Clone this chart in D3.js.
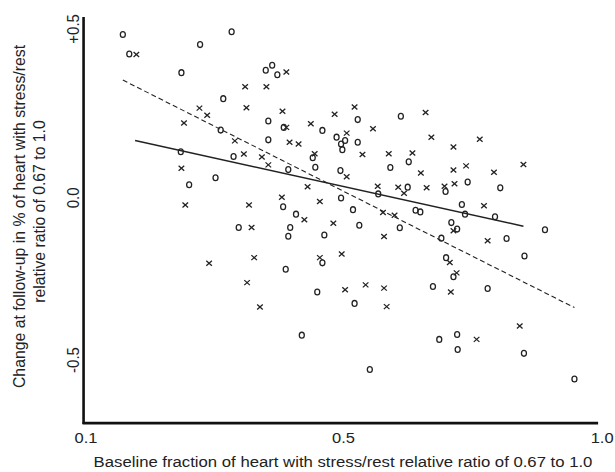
<!DOCTYPE html>
<html>
<head>
<meta charset="utf-8">
<script src="https://cdn.jsdelivr.net/npm/d3@7"></script>
<style>
  body { margin: 0; background: #fff; }
  svg text { font-family: "Liberation Sans", Arial, sans-serif; fill: #222; }
</style>
</head>
<body>
<svg id="chart" width="615" height="472"></svg>
<script>
// open circles
var circleX = [0.158, 0.327, 0.278, 0.168, 0.249, 0.380, 0.390, 0.398, 0.314, 0.528,
  0.610, 0.384, 0.408, 0.310, 0.468, 0.490, 0.504, 0.497, 0.528, 0.384,
  0.248, 0.330, 0.453, 0.457, 0.499, 0.625, 0.590, 0.415, 0.496, 0.302,
  0.261, 0.623, 0.695, 0.737, 0.799, 0.567, 0.407, 0.497, 0.726, 0.519,
  0.638, 0.647, 0.732, 0.789, 0.427, 0.531, 0.608, 0.338, 0.418, 0.415,
  0.706, 0.717, 0.884, 0.471, 0.687, 0.811, 0.411, 0.468, 0.696, 0.845,
  0.710, 0.460, 0.671, 0.775, 0.522, 0.436, 0.683, 0.717, 0.718, 0.844,
  0.551, 0.940];
var circleY = [0.482, 0.490, 0.452, 0.424, 0.369, 0.376, 0.391, 0.363, 0.292, 0.230,
  0.240, 0.226, 0.207, 0.199, 0.198, 0.178, 0.168, 0.158, 0.163, 0.170,
  0.135, 0.121, 0.117, 0.089, 0.141, 0.105, 0.088, 0.082, 0.079, 0.058,
  0.037, 0.030, 0.017, 0.045, 0.028, 0.010, -0.029, -0.002, -0.022, -0.038,
  -0.040, -0.045, -0.052, -0.060, -0.052, -0.086, -0.094, -0.093, -0.093, -0.120,
  -0.078, -0.098, -0.100, -0.116, -0.126, -0.127, -0.222, -0.202, -0.186, -0.181,
  -0.245, -0.292, -0.275, -0.281, -0.327, -0.425, -0.438, -0.423, -0.469, -0.481,
  -0.531, -0.560];

// crosses
var crossX = [0.179, 0.412, 0.348, 0.381, 0.277, 0.289, 0.350, 0.406, 0.487, 0.522,
  0.657, 0.253, 0.450, 0.412, 0.557, 0.507, 0.332, 0.417, 0.431, 0.668,
  0.760, 0.710, 0.346, 0.374, 0.384, 0.456, 0.537, 0.587, 0.632, 0.734,
  0.843, 0.249, 0.507, 0.648, 0.710, 0.787, 0.445, 0.566, 0.605, 0.659,
  0.693, 0.712, 0.616, 0.255, 0.354, 0.405, 0.464, 0.768, 0.576, 0.598,
  0.440, 0.485, 0.358, 0.710, 0.578, 0.775, 0.362, 0.292, 0.464, 0.498,
  0.703, 0.716, 0.351, 0.504, 0.543, 0.578, 0.705, 0.371, 0.583, 0.836,
  0.754];
var crossY = [0.423, 0.371, 0.327, 0.327, 0.264, 0.243, 0.265, 0.255, 0.246, 0.267,
  0.251, 0.220, 0.218, 0.207, 0.203, 0.190, 0.167, 0.163, 0.158, 0.178,
  0.172, 0.149, 0.128, 0.119, 0.096, 0.129, 0.127, 0.129, 0.131, 0.093,
  0.097, 0.086, 0.061, 0.072, 0.081, 0.074, 0.031, 0.033, 0.030, 0.028,
  0.033, 0.040, 0.012, -0.024, -0.024, 0.000, -0.013, -0.026, -0.047, -0.055,
  -0.069, -0.080, -0.093, -0.103, -0.121, -0.134, -0.186, -0.203, -0.186, -0.175,
  -0.201, -0.233, -0.263, -0.285, -0.270, -0.280, -0.292, -0.338, -0.337, -0.397,
  -0.438];

// fitted lines (end points)
var solidFitX = [0.177, 0.843];
var solidFitY = [0.168, -0.089];
var dashedFitX = [0.158, 0.940];
var dashedFitY = [0.347, -0.340];

var xTicks = [0.1, 0.5, 1.0];
var xTickLabels = ['0.1', '0.5', '1.0'];
var yTicks = [-0.5, 0.0, 0.5];
var yTickLabels = ['-0.5', '0.0', '+0.5'];
var xExtent = [0.097, 0.985];
var yExtent = [-0.696, 0.534];

var xTitle = 'Baseline fraction of heart with stress/rest relative ratio of 0.67 to 1.0';
var yTitle = ['Change at follow-up in % of heart with stress/rest',
  'relative ratio of 0.67 to 1.0'];

var svg = d3.select('#chart');
var ink = '#222';
// the source picture is a little wider than tall, so glyphs get stretched in x
var stretch = 'scale(1.1,1)';

var x = d3.scaleLinear().domain([0.1, 0.5, 1.0]).range([85.5, 343, 606]);
var y = d3.scaleLinear().domain([-0.5, 0.0, 0.5]).range([359.5, 197.3, 28.4]);

/*
 * Axis lines are drawn by hand so they run the full frame,
 * the d3 axes only supply the labels.
 */
function drawAxes() {
  svg.append('line')
    .attr('x1', x(xExtent[0])).attr('x2', x(xExtent[0]))
    .attr('y1', y(yExtent[1])).attr('y2', y(yExtent[0]) + 1)
    .attr('stroke', '#111').attr('stroke-width', 2.6);
  svg.append('line')
    .attr('x1', x(xExtent[0]) - 1).attr('x2', x(xExtent[1]))
    .attr('y1', y(yExtent[0])).attr('y2', y(yExtent[0]))
    .attr('stroke', '#111').attr('stroke-width', 2.6);

  var xAxis = svg.append('g')
    .attr('transform', 'translate(0,' + y(yExtent[0]) + ')')
    .call(d3.axisBottom(x).tickValues(xTicks).tickSize(0).tickPadding(9)
      .tickFormat(function(d, i) { return xTickLabels[i]; }));
  xAxis.select('.domain').remove();
  xAxis.selectAll('text')
    .attr('transform', stretch)
    .style('font-size', '15px').attr('fill', ink);
  // last label sits right on the page edge, nudge it in so it is not cut
  xAxis.selectAll('text').filter(function(d) { return d === 1.0; })
    .attr('dx', -4);

  var yAxis = svg.append('g')
    .attr('transform', 'translate(' + x(xExtent[0]) + ',0)')
    .call(d3.axisLeft(y).tickValues(yTicks).tickSize(0)
      .tickFormat(function(d, i) { return yTickLabels[i]; }));
  yAxis.select('.domain').remove();
  yAxis.selectAll('text')
    .attr('x', null).attr('dy', null)
    .attr('text-anchor', 'middle')
    .attr('transform', 'translate(-5,0) ' + stretch + ' rotate(-90)')
    .style('font-size', '15px').attr('fill', ink);

  svg.append('text')
    .attr('transform', 'translate(343,467) ' + stretch)
    .attr('text-anchor', 'middle')
    .style('font-size', '15.2px')
    .text(xTitle);

  var cy = [216.5, 211.5];
  var cx = [25, 45];
  yTitle.forEach(function(t, i) {
    svg.append('text')
      .attr('transform', 'translate(' + cx[i] + ',' + cy[i] + ') ' + stretch + ' rotate(-90)')
      .attr('text-anchor', 'middle')
      .style('font-size', '15.8px')
      .text(t);
  });
}

function drawFits() {
  var line = d3.line()
    .x(function(d) { return x(d[0]); })
    .y(function(d) { return y(d[1]); });

  svg.append('path')
    .datum(d3.zip(solidFitX, solidFitY))
    .attr('d', line)
    .attr('fill', 'none').attr('stroke', ink).attr('stroke-width', 1.5);

  svg.append('path')
    .datum(d3.zip(dashedFitX, dashedFitY))
    .attr('d', line)
    .attr('fill', 'none').attr('stroke', ink).attr('stroke-width', 1.1)
    .attr('stroke-dasharray', '5,3');
}

function drawPoints() {
  svg.append('g').selectAll('ellipse')
    .data(d3.zip(circleX, circleY))
    .join('ellipse')
    .attr('cx', function(d) { return x(d[0]); })
    .attr('cy', function(d) { return y(d[1]); })
    .attr('rx', 2.5).attr('ry', 2.9)
    .attr('fill', 'none').attr('stroke', ink).attr('stroke-width', 1.3);

  var w = 2.8, h = 2.5;
  svg.append('g').selectAll('path')
    .data(d3.zip(crossX, crossY))
    .join('path')
    .attr('d', function(d) {
      var px = x(d[0]), py = y(d[1]);
      return 'M' + (px - w) + ',' + (py - h) + 'L' + (px + w) + ',' + (py + h) +
        'M' + (px - w) + ',' + (py + h) + 'L' + (px + w) + ',' + (py - h);
    })
    .attr('fill', 'none').attr('stroke', ink).attr('stroke-width', 1.3);
}

drawAxes();
drawFits();
drawPoints();
</script>
</body>
</html>
